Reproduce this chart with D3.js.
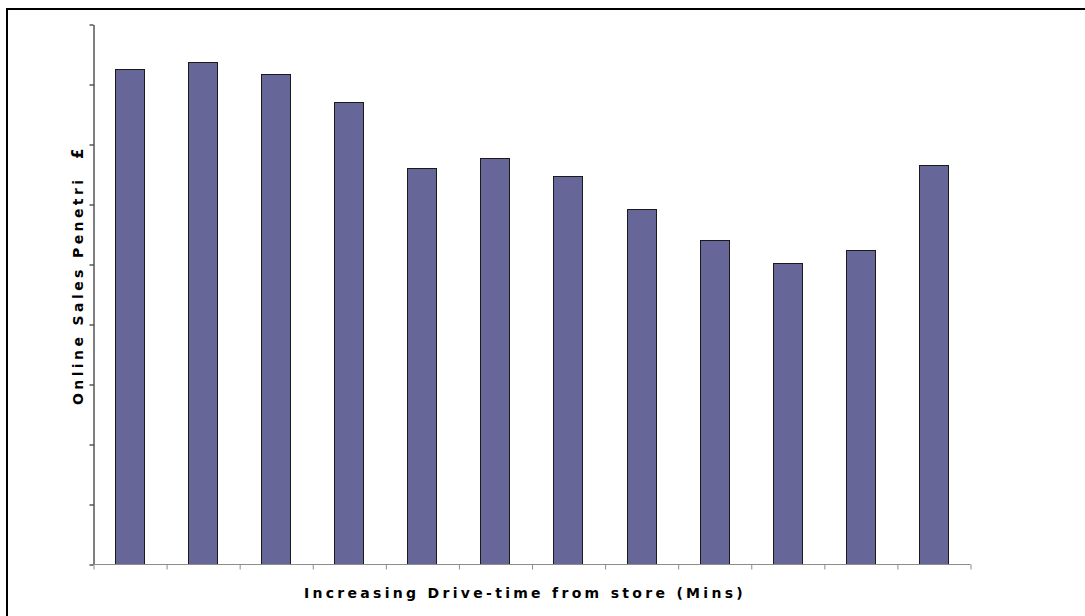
<!DOCTYPE html>
<html>
<head>
<meta charset="utf-8">
<script src="https://cdn.jsdelivr.net/npm/d3@7"></script>
<style>
  html, body { margin: 0; padding: 0; background: #fff; }
  svg { display: block; }
  text { font-family: "DejaVu Sans", Verdana, sans-serif; font-weight: bold; fill: #000; }
</style>
</head>
<body>
<svg id="chart" width="1085" height="616"></svg>
<script>
// Drive-time bands from the store (unlabelled on the axis)
const categories = ["B1", "B2", "B3", "B4", "B5", "B6", "B7", "B8", "B9", "B10", "B11", "B12"];
// Online sales penetration per band (axis units)
const penetration = [8.25, 8.37, 8.17, 7.70, 6.60, 6.76, 6.46, 5.92, 5.40, 5.02, 5.24, 6.65];
// Value-axis tick positions (no tick labels are printed)
const yTicks = [0, 1, 2, 3, 4, 5, 6, 7, 8, 9];
const xTitle = "Increasing Drive-time from store (Mins)";
const yTitle = "Online Sales Penetri";
const yTitleSuffix = "£";

const svg = d3.select("#chart");
const plot = { left: 93, right: 970, top: 24, bottom: 564 };

// outer frame
svg.append("rect")
  .attr("x", 7).attr("y", 9)
  .attr("width", 1090).attr("height", 620)
  .attr("fill", "none").attr("stroke", "#000").attr("stroke-width", 2);

const x = d3.scaleBand()
  .domain(categories)
  .range([plot.left, plot.right])
  .paddingInner(0.6)
  .paddingOuter(0.3);

const y = d3.scaleLinear()
  .domain([0, 9])
  .range([plot.bottom, plot.top]);

// bars
svg.append("g").selectAll("rect")
  .data(categories)
  .join("rect")
  .attr("x", d => Math.round(x(d)) + 0.5)
  .attr("y", (d, i) => Math.round(y(penetration[i])) + 0.5)
  .attr("width", Math.round(x.bandwidth()))
  .attr("height", (d, i) => Math.round(y(0)) - Math.round(y(penetration[i])))
  .attr("fill", "#666699")
  .attr("stroke", "#1a1a1a")
  .attr("stroke-width", 1);

// value axis: line and outward ticks, no labels
const yAxis = svg.append("g")
  .attr("transform", `translate(${plot.left + 0.5},0.5)`)
  .call(d3.axisLeft(y).tickValues(yTicks).tickSize(4).tickSizeOuter(0).tickFormat(""));
yAxis.selectAll("path, line").attr("stroke", "#000");

// category axis: grey baseline with ticks at band boundaries
const boundaries = d3.range(categories.length + 1);
const xb = d3.scaleLinear().domain([0, categories.length]).range([plot.left, plot.right]);
const xAxis = svg.append("g")
  .attr("transform", `translate(0.5,${plot.bottom + 0.5})`)
  .call(d3.axisBottom(xb).tickValues(boundaries).tickSize(5).tickSizeOuter(0).tickFormat(""));
xAxis.selectAll("path, line").attr("stroke", "#8c8c8c");
xAxis.select("path").attr("d", `M${plot.left},0H${plot.right}`);

// axis titles
svg.append("text")
  .attr("x", 525).attr("y", 598)
  .attr("text-anchor", "middle")
  .attr("font-size", 14)
  .attr("letter-spacing", 3.3)
  .text(xTitle);

const yt = svg.append("g").attr("transform", "translate(83,405) rotate(-90)");
yt.append("text")
  .attr("x", 0).attr("y", 0)
  .attr("font-size", 14)
  .attr("letter-spacing", 3.4)
  .text(yTitle);
yt.append("text")
  .attr("x", 246).attr("y", 0)
  .attr("font-size", 15)
  .text(yTitleSuffix);
</script>
</body>
</html>
